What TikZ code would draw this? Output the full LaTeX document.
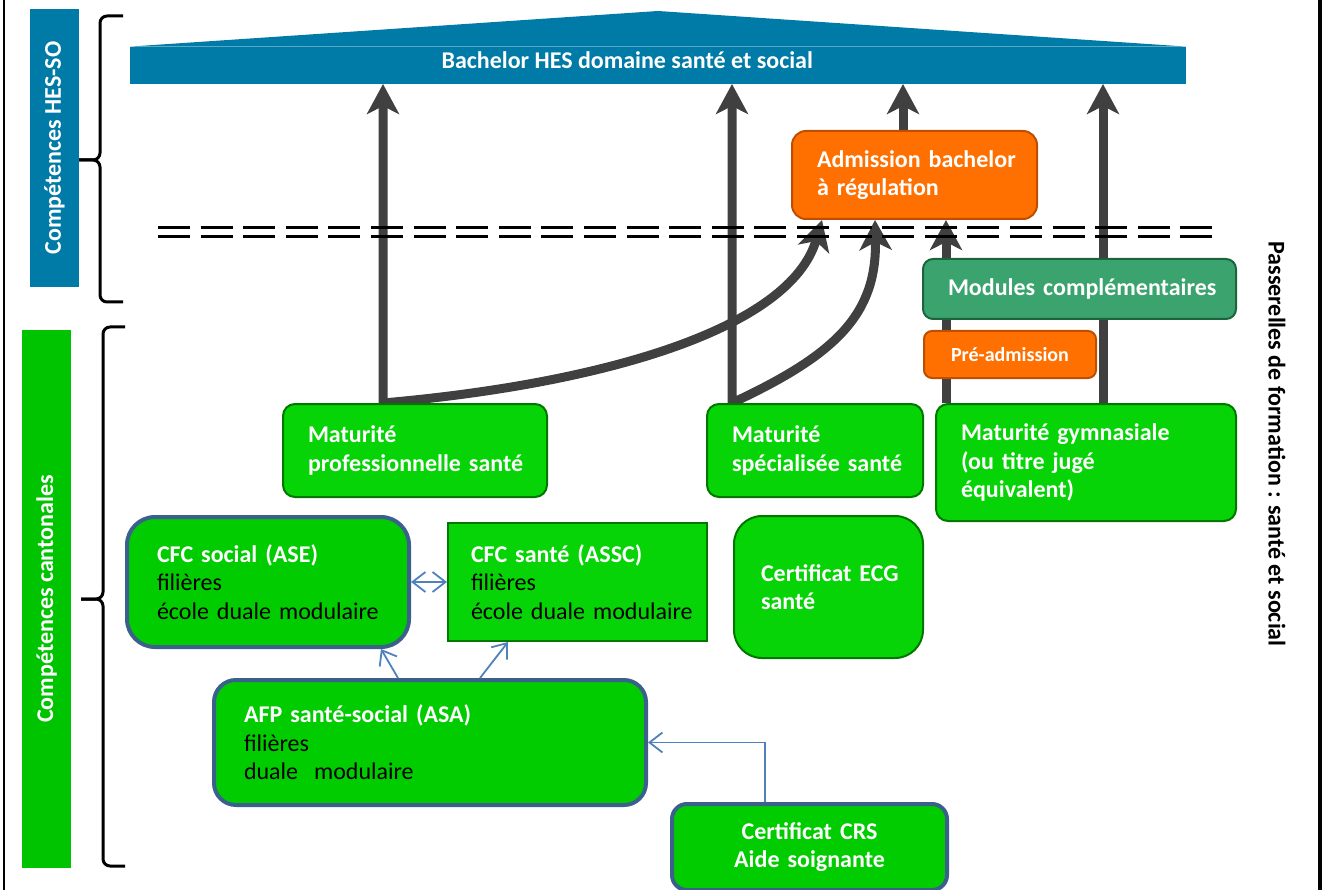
\documentclass[tikz,border=0pt]{standalone}
\usepackage{fontspec}
\setmainfont{Carlito}
\usetikzlibrary{arrows.meta,backgrounds}

\definecolor{HESblue}{RGB}{0,122,167}
\definecolor{CantonGreen}{RGB}{0,196,0}
\definecolor{BoxGreen}{RGB}{6,212,6}
\definecolor{BoxGreenDark}{RGB}{0,120,0}
\definecolor{CFCGreen}{RGB}{0,204,0}
\definecolor{BorderBlue}{RGB}{60,96,140}
\definecolor{AdmOrange}{RGB}{255,112,0}
\definecolor{AdmOrangeDark}{RGB}{190,78,0}
\definecolor{ModTeal}{RGB}{58,163,110}
\definecolor{ModTealDark}{RGB}{28,100,62}
\definecolor{ArrowGray}{RGB}{64,64,64}
\definecolor{LinkBlue}{RGB}{79,129,189}

\begin{document}
\begin{tikzpicture}
    [x=1pt, y=-1pt,
     font=\fontsize{24}{28.5}\selectfont,
     Box/.style={rectangle, anchor=north west, inner xsep=25pt, inner ysep=0pt, align=left,
                 execute at begin node={\hyphenpenalty=10000 \exhyphenpenalty=10000}},
     GreenBox/.style={Box, fill=BoxGreen, draw=BoxGreenDark, line width=2pt, rounded corners=12pt,
                      text=white, font=\fontsize{24}{28.5}\selectfont\bfseries},
     CFCBox/.style={Box, fill=CFCGreen, draw=BorderBlue, line width=4pt, rounded corners=#1},
     OrangeBox/.style={Box, fill=AdmOrange, draw=AdmOrangeDark, line width=2pt,
                       text=white, font=\fontsize{24}{28.5}\selectfont\bfseries},
     Label/.style={rotate=90, text=white, minimum height=49pt, inner sep=0pt,
                   font=\fontsize{24}{28.5}\selectfont\bfseries},
     Brace/.style={line width=3pt, rounded corners=7pt},
     DoubleDash/.style={line width=3pt, dash pattern=on 32pt off 10.6pt},
     Thick/.style={draw=ArrowGray, line width=9pt, >={Stealth[length=30pt,width=32pt,inset=8pt]}},
     Thin/.style={draw=LinkBlue, line width=1.8pt, >={Straight Barb[length=13pt,width=20pt]}}]
    \useasboundingbox (0,0) rectangle (1327,890);

    % frame
    \draw[line width=2pt] (4,0) -- (4,890);
    \draw[line width=3.5pt] (1320,0) -- (1320,890);

    % side labels
    \node[Label, fill=HESblue, minimum width=278pt] (hesso) at (54.5,148) {Compétences HES-SO};
    \node[Label, fill=CantonGreen, minimum width=538pt] (cantonal) at (46.5,599) {Compétences cantonales};
    \node[rotate=-90, font=\fontsize{24}{28.5}\selectfont\bfseries] (passerelles) at (1277,444)
        {Passerelles de formation : santé et social};

    \draw[Brace] (123,16) -| (100,160) -- (79,160);
    \draw[Brace] (79,160) -- (100,160) |- (123,302);
    \draw[Brace] (125,327) -| (103,599) -- (81,599);
    \draw[Brace] (81,599) -- (103,599) |- (125,866);

    % bachelor roof
    \node[fill=HESblue, anchor=south west, minimum width=1056pt, minimum height=37pt, inner sep=0pt,
          text=white, text depth=11pt, font=\fontsize{24}{28.5}\selectfont\bfseries]
        (bachelor) at (130,84) {\kern-62pt Bachelor HES domaine santé et social};
    \fill[HESblue] (bachelor.north west) -- (658,11) -- (bachelor.north east) -- cycle;

    % boxes
    \node[OrangeBox, rounded corners=14pt, text width=195pt, minimum height=88pt] (admission) at (791,130)
        {Admission~bachelor\\à~régulation};
    \node[Box, fill=ModTeal, draw=ModTealDark, line width=2pt, rounded corners=10pt, text=white,
          font=\fontsize{24}{28.5}\selectfont\bfseries, align=center, text width=263pt, minimum height=60pt]
        (modules) at (922,258) {Modules~complémentaires};
    \node[OrangeBox, rounded corners=8pt, align=center, text width=122pt, minimum height=47pt,
          font=\fontsize{20}{24}\selectfont\bfseries] (preadm) at (923,330) {Pré-admission};

    \node[GreenBox, text width=214pt, minimum height=93pt] (matpro) at (282,403)
        {Maturité\\professionnelle~santé};
    \node[GreenBox, text width=166pt, minimum height=93pt] (matspe) at (706,403)
        {Maturité\\spécialisée~santé};
    \node[GreenBox, text width=250pt, minimum height=117pt] (gym) at (935,403)
        {Maturité~gymnasiale\\(ou titre jugé\\équivalent)};

    \node[CFCBox=28pt, inner xsep=30pt, text width=222pt, minimum height=130pt] (cfcsocial) at (125,515)
        {\textcolor{white}{\bfseries CFC~social~(ASE)}\\filières\\école~duale~modulaire};
    \node[Box, fill=BoxGreen, draw=BoxGreenDark, line width=2pt, inner xsep=23pt, text width=213pt,
          minimum height=118pt] (cfcsante) at (447,522)
        {\textcolor{white}{\bfseries CFC~santé~(ASSC)}\\filières\\école~duale~modulaire};
    \node[GreenBox, rounded corners=28pt, inner xsep=27pt, text width=135pt, minimum height=142pt]
        (ecg) at (733,515) {Certificat~ECG\\santé};
    \node[CFCBox=22pt, inner xsep=30pt, text width=372pt, minimum height=125pt] (afp) at (212,678)
        {\textcolor{white}{\bfseries AFP~santé-social~(ASA)}\\filières\\duale~~modulaire};
    \node[CFCBox=15pt, text=white, font=\fontsize{24}{28.5}\selectfont\bfseries, align=center,
          text width=225pt, minimum height=86pt] (crs) at (670,802)
        {Certificat CRS\\Aide soignante};

    % thick arrows
    \begin{scope}[on background layer]
        \draw[Thick, <->] (383,0 |- bachelor.south) -- (383,0 |- matpro.north)
            .. controls (600,384) and (790,330) .. (822,0 |- admission.south);
        \draw[Thick, <->] (732,0 |- bachelor.south) -- (732,0 |- matspe.north)
            .. controls (835,355) and (877,315) .. (875,0 |- admission.south);
        \draw[Thick, ->] (903,0 |- admission.north) -- (903,0 |- bachelor.south);
        \draw[Thick, ->] (946,0 |- gym.north) -- (946,0 |- admission.south);
        \draw[Thick, ->] (1103,0 |- gym.north) -- (1103,0 |- bachelor.south);
    \end{scope}
    \foreach \y in {228,237}
        \draw[DoubleDash] (158,\y) -- (1216,\y);

    % thin arrows
    \draw[Thin, <->] (cfcsocial.east) -- (cfcsocial.east -| cfcsante.west);
    \draw[Thin, ->] (398,0 |- afp.north) -- (381,0 |- cfcsocial.south);
    \draw[Thin, ->] (480,0 |- afp.north) -- (508,0 |- cfcsante.south);
    \draw[Thin, ->] (765,0 |- crs.north) |- (afp.east);
\end{tikzpicture}
\end{document}
